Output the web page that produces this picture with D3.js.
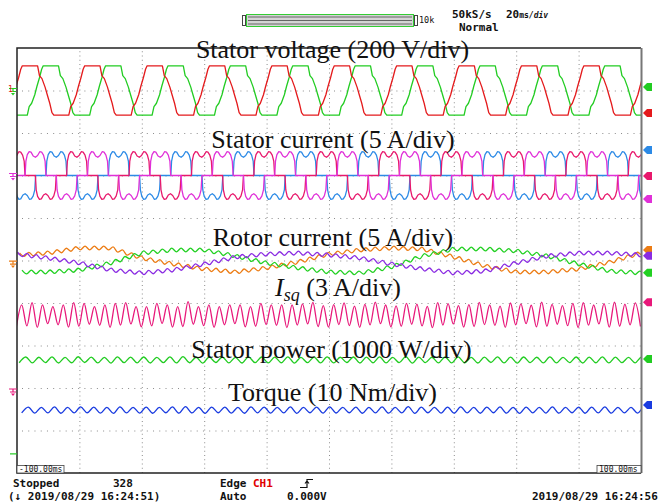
<!DOCTYPE html>
<html>
<head>
<meta charset="utf-8">
<script src="https://cdn.jsdelivr.net/npm/d3@7"></script>
<style>
  body { margin: 0; background: #fff; }
  svg { display: block; }
  .mono { font-family: "DejaVu Sans Mono", monospace; fill: #111; }
  .label { font-family: "Liberation Serif", "Times New Roman", serif; font-size: 26px; fill: #111; }
</style>
</head>
<body>
<div id="scope"></div>
<script>
// screen: 20 ms/div horizontally, 10 divisions each way
const timeTicks = [-100, -80, -60, -40, -20, 0, 20, 40, 60, 80, 100];
const divTicks = [-5, -4, -3, -2, -1, 0, 1, 2, 3, 4, 5];

// stator voltage, one period [ms from top centre, V]
const voltageCycle = [[-2.5, 116], [2.4, 116], [3.0, 70], [3.8, 56], [4.8, 16], [5.5, -20], [6.3, -60],
  [7.0, -104], [7.6, -116], [12.4, -116], [13.0, -76], [13.8, -60], [14.8, -20], [15.5, 20],
  [16.3, 60], [17.0, 100], [17.5, 116]];
const voltageTops = [-95.8, -89.1];   // red, green (ms)

// stator current, positive 120 deg block [ms from block start, A]
const currentLobe = [[0, 0], [0.25, 1.7], [0.7, 2.45], [1.3, 2.8], [1.9, 2.75], [2.6, 2.3], [3.3, 2.15],
  [4.0, 2.35], [4.7, 2.8], [5.3, 2.75], [5.9, 2.4], [6.4, 1.7], [6.67, 0]];
const currentStarts = [-84.1, -97.4, -90.7];   // crimson, magenta, blue (ms)

// rotor currents, read every half division [A]
const rotorTimes = [-100, -90, -80, -70, -60, -50, -40, -30, -20, -10, 0, 10, 20, 30, 40, 50, 60, 70, 80, 90, 100];
const rotorOrange = [0.65, 0.88, 1.47, 1.47, 0.29, -0.41, -1.0, -1.35, -0.88, -0.18, 0.76, 1.24, 1.47, 1.35, 0.41, -0.65, -1.35, -1.35, -1.0, -0.18, 0.88];
const rotorGreen = [-1.35, -1.35, -1.12, -0.29, 0.88, 1.24, 1.24, 0.53, -0.29, -0.88, -1.35, -1.47, -0.76, 0.53, 1.35, 1.35, 1.12, 0.53, -0.41, -1.24, -1.47];
const rotorPurple = [0.76, 0.29, -0.29, -1.12, -1.47, -1.12, -0.41, 0.41, 0.76, 0.88, 0.65, 0.29, -0.41, -1.0, -1.47, -1.24, -0.29, 0.53, 0.88, 0.88, 0.65];
const rotorRipple = 0.22;   // A

// Isq oscillation extremes [A from mean]
const isqPeaks = [0.71, 0.87, 0.71, 0.59, 0.71, 0.87, 0.82, 0.59, 0.71, 0.82,
  0.87, 0.59, 0.59, 0.82, 0.71, 0.59, 0.94, 0.59, 0.71, 0.59,
  0.71, 0.71, 0.59, 0.82, 0.71, 0.71, 0.71, 0.78, 0.88, 0.66,
  0.72, 0.85, 0.62, 0.75, 0.90, 0.70, 0.64, 0.82, 0.76, 0.60,
  0.86, 0.80, 0.66, 0.72, 0.88, 0.70, 0.62, 0.84, 0.78, 0.68,
  0.90, 0.74, 0.66, 0.82, 0.86, 0.70, 0.80, 0.90, 0.76, 0.85];
const isqTroughs = [0.80, 0.78, 0.88, 0.62, 0.70, 0.86, 0.80, 0.66, 0.74, 0.88,
  0.72, 0.64, 0.84, 0.78, 0.60, 0.86, 0.82, 0.66, 0.76, 0.88,
  0.70, 0.62, 0.84, 0.80, 0.68, 0.74, 0.90, 0.72, 0.64, 0.82,
  0.86, 0.68, 0.76, 0.88, 0.70, 0.62, 0.84, 0.80, 0.66, 0.78,
  0.90, 0.72, 0.64, 0.86, 0.82, 0.68, 0.74, 0.88, 0.70, 0.62,
  0.84, 0.80, 0.66, 0.76, 0.90, 0.72, 0.64, 0.86, 0.80, 0.70, 0.82];

// stator power ripple [W], torque ripple [Nm]
const powerPeaks = [70, 64, 72, 60, 75, 68, 62, 74, 66, 70, 60, 72, 76, 64, 68, 70, 62, 74, 70, 66,
  72, 60, 68, 74, 64, 70, 66, 72, 62, 76, 68, 64, 70, 74, 60, 68, 72, 66, 70, 64,
  74, 62, 70, 68, 72, 66, 60, 70, 68];
const powerTroughs = [66, 70, 62, 72, 66, 60, 70, 74, 64, 68, 72, 62, 70, 66, 74, 60, 68, 72, 64, 70,
  66, 74, 62, 70, 68, 60, 72, 66, 70, 64, 74, 62, 68, 70, 66, 72, 60, 70, 74, 64,
  68, 70, 62, 72, 66, 70, 64, 68, 72, 66];
const torquePeaks = [0.72, 0.66, 0.74, 0.62, 0.76, 0.68, 0.64, 0.78, 0.66, 0.72, 0.62, 0.74, 0.80, 0.66, 0.70, 0.72, 0.62, 0.76, 0.70, 0.66,
  0.74, 0.62, 0.70, 0.78, 0.64, 0.72, 0.66, 0.74, 0.62, 0.80, 0.68, 0.64, 0.72, 0.76, 0.62, 0.70, 0.74, 0.66, 0.72, 0.64,
  0.76, 0.62, 0.72, 0.68, 0.74, 0.66, 0.62, 0.72, 0.70];
const torqueTroughs = [0.68, 0.72, 0.64, 0.74, 0.66, 0.62, 0.72, 0.76, 0.64, 0.70, 0.74, 0.62, 0.72, 0.66, 0.76, 0.62, 0.70, 0.74, 0.64, 0.72,
  0.66, 0.76, 0.62, 0.72, 0.68, 0.62, 0.74, 0.66, 0.72, 0.64, 0.76, 0.62, 0.70, 0.72, 0.66, 0.74, 0.62, 0.72, 0.76, 0.64,
  0.70, 0.72, 0.62, 0.74, 0.66, 0.72, 0.64, 0.70, 0.74, 0.66];

const traceLabels = ["Stator voltage (200 V/div)", "Stator current (5 A/div)", "Rotor current (5 A/div)",
  "(3 A/div)", "Stator power (1000 W/div)", "Torque (10 Nm/div)"];

class ScopeScreen
{
    constructor(_config)
    {
        this.config = {
            parentElement: _config.parentElement,
            containerWidth: _config.containerWidth || 659,
            containerHeight: _config.containerHeight || 504,
            plot: {left: 17, top: 48, right: 641, bottom: 473}
        };
        // units per division and screen position (div) of each trace
        this.channels = {
            voltage: {perDiv: 200, offset: 4.0},
            stator: {perDiv: 5, offset: 2.0},
            rotor: {perDiv: 5, offset: 0.0},
            isq: {perDiv: 3, offset: -1.28},
            power: {perDiv: 1000, offset: -2.34},
            torque: {perDiv: 10, offset: -3.52}
        };
        this.initScope();
    }

    initScope()
    {
        let vis = this;
        const p = vis.config.plot;

        vis.svg = d3.select(vis.config.parentElement).append('svg')
            .attr('width', vis.config.containerWidth)
            .attr('height', vis.config.containerHeight);

        vis.x = d3.scaleLinear().domain([-100, 100]).range([p.left, p.right]);
        vis.y = d3.scaleLinear().domain([-5, 5]).range([p.bottom, p.top]);

        vis.svg.append('clipPath').attr('id', 'screen')
            .append('rect')
            .attr('x', p.left).attr('y', p.top)
            .attr('width', p.right - p.left).attr('height', p.bottom - p.top);

        // dotted graticule
        vis.svg.append('g')
            .attr('transform', `translate(0, ${p.bottom})`)
            .call(d3.axisBottom(vis.x).tickValues(timeTicks.slice(1, -1)).tickSize(-(p.bottom - p.top)).tickFormat(''))
            .call(g => g.select('.domain').remove())
            .selectAll('line')
                .attr('stroke', '#8c8c8c')
                .attr('stroke-dasharray', '1,3.25');

        vis.svg.append('g')
            .attr('transform', `translate(${p.left}, 0)`)
            .call(d3.axisLeft(vis.y).tickValues(divTicks.slice(1, -1)).tickSize(-(p.right - p.left)).tickFormat(''))
            .call(g => g.select('.domain').remove())
            .selectAll('line')
                .attr('stroke', '#8c8c8c')
                .attr('stroke-dasharray', '1,5.24')
                .attr('stroke-dashoffset', -5);

        vis.traces = vis.svg.append('g').attr('clip-path', 'url(#screen)');
        vis.drawTraces();

        // frame
        vis.svg.append('path')
            .attr('d', `M${p.right},${p.top}H${p.left}V${p.bottom}H${p.right}`)
            .attr('fill', 'none').attr('stroke', '#222').attr('stroke-width', 1.5);
        vis.svg.append('line')
            .attr('x1', p.right + 0.5).attr('x2', p.right + 0.5)
            .attr('y1', p.top).attr('y2', p.bottom)
            .attr('stroke', '#777').attr('stroke-width', 2);

        vis.drawMarkers();
        vis.drawLabels();
        vis.drawStatus();
    }

    drawTrace(points, ch, color, curve)
    {
        let vis = this;
        const line = d3.line()
            .x(d => vis.x(d[0]))
            .y(d => vis.y(ch.offset + d[1] / ch.perDiv))
            .curve(curve || d3.curveLinear);

        vis.traces.append('path')
            .attr('d', line(points))
            .attr('fill', 'none')
            .attr('stroke', color)
            .attr('stroke-width', 1.3)
            .attr('stroke-linejoin', 'round');
    }

    rippleTrace(peaks, troughs, firstPeak, period)
    {
        const pts = [];
        troughs.forEach((v, i) => pts.push([firstPeak - period / 2 + i * period, -v]));
        peaks.forEach((v, i) => pts.push([firstPeak + i * period, v]));
        return pts.sort((a, b) => a[0] - b[0]);
    }

    drawTraces()
    {
        let vis = this;
        const ch = vis.channels;

        // stator voltage
        const vColors = ['#e41a1c', '#22cc22'];
        [1, 0].forEach(j => {
            const pts = [];
            for (let k = -1; k <= 10; k++)
                voltageCycle.forEach(d => pts.push([voltageTops[j] + k * 20 + d[0], d[1]]));
            vis.drawTrace(pts, ch.voltage, vColors[j]);
        });

        // stator currents
        const iColors = ['#e8186c', '#e030d8', '#2c8ae6'];
        [2, 0, 1].forEach(j => {
            const pts = [];
            for (let k = -1; k <= 10; k++) {
                const s = currentStarts[j] + k * 20;
                currentLobe.forEach(d => pts.push([s + d[0], d[1]]));
                currentLobe.forEach(d => pts.push([s + 10 + d[0], -d[1]]));
            }
            vis.drawTrace(pts, ch.stator, iColors[j]);
        });

        // rotor currents
        const rotor = [[rotorOrange, '#ec7c14', -99.2], [rotorGreen, '#22d022', -98.4], [rotorPurple, '#8a2be2', -99.8]];
        rotor.forEach(([vals, color, t0]) => {
            const slow = d3.scaleLinear().domain(rotorTimes).range(vals).clamp(true);
            const pts = d3.range(t0, 102, 1.5).map((t, i) => [t, slow(t) + (i % 2 ? -rotorRipple : rotorRipple)]);
            vis.drawTrace(pts, ch.rotor, color, d3.curveMonotoneX);
        });

        vis.drawTrace(vis.rippleTrace(isqPeaks, isqTroughs, -98.5, 10 / 3), ch.isq, '#e8187a', d3.curveMonotoneX);
        vis.drawTrace(vis.rippleTrace(powerPeaks, powerTroughs, -97.2, 4.2), ch.power, '#22cc22', d3.curveMonotoneX);
        vis.drawTrace(vis.rippleTrace(torquePeaks, torqueTroughs, -96.4, 4.2), ch.torque, '#1a3ce0', d3.curveMonotoneX);
    }

    drawMarkers()
    {
        let vis = this;
        const p = vis.config.plot;

        // channel flags on the right edge
        const flags = [[4.08, '#22cc22'], [3.47, '#e41a1c'], [2.6, '#2c8ae6'], [1.99, '#e8186c'], [1.45, '#e030d8'],
            [0.25, '#ec7c14'], [0.11, '#8a2be2'], [-0.29, '#22d022'], [-0.98, '#e8187a'], [-2.32, '#22cc22'], [-3.4, '#1a3ce0']];
        vis.svg.append('g').selectAll('path')
            .data(flags)
            .join('path')
            .attr('d', d => {
                const y = vis.y(d[0]);
                return `M${p.right + 2},${y} L${p.right + 6},${y - 4} H${p.right + 11} V${y + 4} H${p.right + 6} Z`;
            })
            .attr('fill', d => d[1]);

        // ground marks on the left edge
        const grounds = [[4.0, '#22cc22'], [2.0, '#e030d8'], [-0.06, '#ec7c14'], [-3.07, '#e8187a']];
        const g = vis.svg.append('g');
        grounds.forEach(([lv, color]) => {
            const y = vis.y(lv);
            g.append('path')
                .attr('d', `M9,${y - 2}H17M13,${y - 2}V${y + 1}M10,${y + 1}H16`)
                .attr('stroke', color).attr('stroke-width', 1.2).attr('fill', 'none');
            g.append('path')
                .attr('d', `M11,${y + 2.5}H15L13,${y + 5}Z`)
                .attr('fill', color);
        });
        g.append('text').attr('class', 'mono')
            .attr('x', 8).attr('y', vis.y(4.0) + 1)
            .attr('font-size', 8).style('fill', '#e41a1c').text('1');
        g.append('line')
            .attr('x1', 10).attr('x2', 17)
            .attr('y1', vis.y(-4.55)).attr('y2', vis.y(-4.55))
            .attr('stroke', '#22cc22').attr('stroke-width', 1.2);

        // time readouts at the screen corners
        const ends = [['-100.00ms', p.left, 47], ['100.00ms', p.right - 44, 44]];
        ends.forEach(([txt, x0, w]) => {
            vis.svg.append('rect')
                .attr('x', x0).attr('y', p.bottom - 7.5)
                .attr('width', w).attr('height', 7.5)
                .attr('fill', '#fff').attr('stroke', '#444').attr('stroke-width', 0.8);
            vis.svg.append('text').attr('class', 'mono')
                .attr('x', x0 + 2).attr('y', p.bottom - 1)
                .attr('font-size', 8).text(txt);
        });
    }

    drawLabels()
    {
        let vis = this;
        const pos = [[332.5, 58], [333, 148], [333, 246], [338, 296], [331.5, 358], [332.5, 401]];
        traceLabels.forEach((txt, i) => {
            const t = vis.svg.append('text')
                .attr('class', 'label')
                .attr('x', pos[i][0]).attr('y', pos[i][1])
                .attr('text-anchor', 'middle');
            if (i === 3) {
                t.append('tspan').attr('font-style', 'italic').text('I');
                t.append('tspan').attr('font-style', 'italic').attr('font-size', 18).attr('dy', 5).text('sq');
                t.append('tspan').attr('dy', -5).text(' ' + txt);
            } else {
                t.text(txt);
            }
        });
    }

    drawStatus()
    {
        let vis = this;
        const top = vis.svg.append('g');

        // record length bar
        top.append('rect').attr('x', 242.5).attr('y', 15.5).attr('width', 3).attr('height', 10)
            .attr('fill', '#fff').attr('stroke', '#444');
        top.append('rect').attr('x', 414.5).attr('y', 15.5).attr('width', 3).attr('height', 10)
            .attr('fill', '#fff').attr('stroke', '#444');
        top.append('rect').attr('x', 246.5).attr('y', 14.5).attr('width', 167).attr('height', 12)
            .attr('fill', '#d4d4d4').attr('stroke', '#33cc33');
        [17, 20.5, 24].forEach(yy => top.append('line')
            .attr('x1', 248).attr('x2', 412).attr('y1', yy).attr('y2', yy)
            .attr('stroke', '#666').attr('stroke-width', 1.2));
        top.append('text').attr('class', 'mono').attr('x', 419).attr('y', 23).attr('font-size', 8.5).text('10k');

        top.append('text').attr('class', 'mono').attr('x', 452).attr('y', 18)
            .attr('font-size', 11).attr('font-weight', 'bold').text('50kS/s');
        const tb = top.append('text').attr('class', 'mono').attr('x', 506).attr('y', 18)
            .attr('font-size', 11).attr('font-weight', 'bold');
        tb.append('tspan').text('20');
        tb.append('tspan').attr('font-size', 8).text('ms');
        tb.append('tspan').attr('font-size', 8).attr('font-style', 'italic').text('/div');
        top.append('text').attr('class', 'mono').attr('x', 459).attr('y', 31)
            .attr('font-size', 11).attr('font-weight', 'bold').text('Normal');

        // bottom status lines
        const rows = [
            ['Stopped', 13, 487], ['328', 113, 487], ['Edge', 220, 487],
            ['(\u2193 2019/08/29 16:24:51)', 8, 500], ['Auto', 220, 500], ['0.000V', 287, 500],
            ['2019/08/29 16:24:56', 532, 500]
        ];
        const bot = vis.svg.append('g');
        rows.forEach(([txt, x0, y0]) => bot.append('text')
            .attr('class', 'mono').attr('x', x0).attr('y', y0)
            .attr('font-size', 11).attr('font-weight', 'bold').text(txt));
        bot.append('text').attr('class', 'mono').attr('x', 253).attr('y', 487)
            .attr('font-size', 11).attr('font-weight', 'bold').style('fill', '#e00000').text('CH1');
        bot.append('path')
            .attr('d', 'M300,487.5H307V479.5H313M305,483.5L307,481L309,483.5')
            .attr('fill', 'none').attr('stroke', '#111').attr('stroke-width', 1.2);
    }
}

new ScopeScreen({parentElement: '#scope'});
</script>
</body>
</html>
